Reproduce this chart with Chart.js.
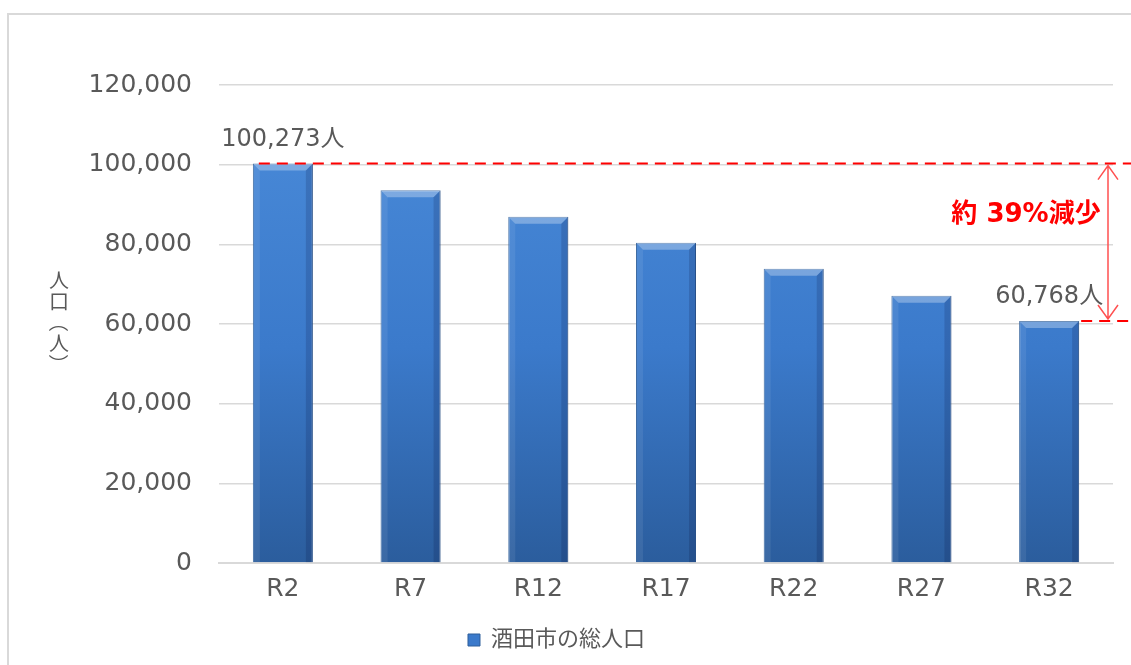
<!DOCTYPE html>
<html>
<head>
<meta charset="utf-8">
<script src="https://cdn.jsdelivr.net/npm/chart.js@4"></script>
<style>
  body { margin: 0; background: #fff; }
  #wrap { width: 1131px; height: 665px; }
</style>
</head>
<body>
<div id="wrap"><canvas id="main" width="1131" height="665"></canvas></div>
<script>
const labels = ['R2', 'R7', 'R12', 'R17', 'R22', 'R27', 'R32'];
const population = [100273, 93600, 86900, 80400, 73900, 67100, 60768];
const yTicks = [0, 20000, 40000, 60000, 80000, 100000, 120000];
const seriesName = '酒田市の総人口';
const axisTitle = ['人', '口', '（', '人', '）'];
const dropText = '約 39%減少';

const font = '"DejaVu Sans", "Noto Sans CJK JP", sans-serif';
const grey = '#595959';

// bar fill, a vertical gradient over each bar
const barFill = (ctx) => {
    const chart = ctx.chart;
    const area = chart.chartArea;
    if (!area) return '#3b7acb';
    const g = chart.ctx.createLinearGradient(0, area.top, 0, area.bottom);
    g.addColorStop(0, '#4b8cda');
    g.addColorStop(0.55, '#3b7acb');
    g.addColorStop(1, '#2b5d9d');
    return g;
}

const framePlugin = {
    id: 'frame',
    beforeDraw(chart) {
        const c = chart.ctx;
        c.save();
        c.strokeStyle = '#d9d9d9';
        c.lineWidth = 2;
        c.beginPath();
        c.moveTo(8, 665);
        c.lineTo(8, 14);
        c.lineTo(1131, 14);
        c.stroke();
        c.restore();
    }
}

// bevel look on top of each bar
const bevelPlugin = {
    id: 'bevel',
    afterDatasetsDraw(chart) {
        const c = chart.ctx;
        const meta = chart.getDatasetMeta(0);
        meta.data.forEach(bar => {
            const x0 = bar.x - bar.width / 2, x1 = bar.x + bar.width / 2;
            const y0 = bar.y, y1 = bar.base;
            const b = 7;
            c.save();
            c.fillStyle = 'rgba(255,255,255,0.3)';
            c.beginPath();
            c.moveTo(x0, y0); c.lineTo(x1, y0); c.lineTo(x1 - b, y0 + b); c.lineTo(x0 + b, y0 + b);
            c.closePath(); c.fill();
            c.fillStyle = 'rgba(255,255,255,0.08)';
            c.beginPath();
            c.moveTo(x0, y0); c.lineTo(x0 + b, y0 + b); c.lineTo(x0 + b, y1); c.lineTo(x0, y1);
            c.closePath(); c.fill();
            c.fillStyle = 'rgba(0,0,40,0.15)';
            c.beginPath();
            c.moveTo(x1, y0); c.lineTo(x1 - b, y0 + b); c.lineTo(x1 - b, y1); c.lineTo(x1, y1);
            c.closePath(); c.fill();
            c.restore();
        });
    }
}

const notePlugin = {
    id: 'notes',
    afterDraw(chart) {
        const c = chart.ctx;
        const y = chart.scales.y;
        const bars = chart.getDatasetMeta(0).data;
        const first = bars[0], last = bars[bars.length - 1];
        const yTop = y.getPixelForValue(population[0]);
        const yBot = y.getPixelForValue(population[population.length - 1]);
        c.save();
        // value labels on first and last bar
        c.font = '24px ' + font;
        c.fillStyle = grey;
        c.textAlign = 'center';
        c.textBaseline = 'bottom';
        c.fillText(population[0].toLocaleString('en-US') + '人', first.x, first.y - 12);
        c.fillText(population[population.length - 1].toLocaleString('en-US') + '人', last.x, last.y - 12);
        // red dashed reference lines
        c.strokeStyle = '#ff0000';
        c.lineWidth = 2;
        c.setLineDash([11, 7]);
        c.beginPath();
        c.moveTo(first.x - first.width / 2 + 6, yTop);
        c.lineTo(1131, yTop);
        c.moveTo(last.x + last.width / 2 + 2, yBot);
        c.lineTo(1131, yBot);
        c.stroke();
        c.setLineDash([]);
        // double arrow
        const ax = 1108;
        c.strokeStyle = '#ff5050';
        c.lineWidth = 1.5;
        c.beginPath();
        c.moveTo(ax, yTop + 2); c.lineTo(ax, yBot - 2);
        c.moveTo(ax - 10, yTop + 16); c.lineTo(ax, yTop + 2); c.lineTo(ax + 10, yTop + 16);
        c.moveTo(ax - 10, yBot - 16); c.lineTo(ax, yBot - 2); c.lineTo(ax + 10, yBot - 16);
        c.stroke();
        c.fillStyle = '#ff0000';
        c.font = 'bold 26px ' + font;
        c.textAlign = 'center';
        c.textBaseline = 'middle';
        c.fillText(dropText, 1026, 215);
        // vertical axis title
        c.fillStyle = grey;
        c.font = '20px "Noto Sans CJK JP", sans-serif';
        axisTitle.forEach((ch, i) => {
            const cy = 280 + i * 21;
            c.save();
            c.translate(59, cy);
            if (ch === '（' || ch === '）') c.rotate(Math.PI / 2);
            c.fillText(ch, 0, 0);
            c.restore();
        });
        c.restore();
    }
}

new Chart(document.getElementById('main'), {
    type: 'bar',
    data: {
        labels: labels,
        datasets: [{
            label: seriesName,
            data: population,
            backgroundColor: barFill,
            borderColor: '#2f5f9a',
            borderWidth: 1,
            categoryPercentage: 1,
            barPercentage: 0.47
        }]
    },
    options: {
        responsive: false,
        animation: false,
        layout: { padding: { top: 85, right: 18, left: 0, bottom: 4 } },
        scales: {
            x: {
                grid: { display: false, drawTicks: false },
                border: { color: '#d9d9d9', width: 2 },
                ticks: { color: grey, font: { family: font, size: 25 }, padding: 11 },
                afterFit: (s) => { s.height = 54; }
            },
            y: {
                min: 0,
                max: 120000,
                afterBuildTicks: (s) => { s.ticks = yTicks.map(v => ({ value: v })); },
                grid: { color: '#d9d9d9', lineWidth: 1.5, drawTicks: false },
                border: { display: false },
                ticks: {
                    color: grey,
                    font: { family: font, size: 25 },
                    padding: 27,
                    callback: (v) => v.toLocaleString('en-US')
                },
                afterFit: (s) => { s.width = 219; }
            }
        },
        plugins: {
            legend: {
                position: 'bottom',
                labels: {
                    color: grey,
                    font: { family: font, size: 22 },
                    boxWidth: 12,
                    boxHeight: 12,
                    padding: 12,
                    generateLabels: (chart) => [{
                        text: seriesName,
                        fillStyle: '#3b7acb',
                        strokeStyle: '#2f5f9a',
                        lineWidth: 1,
                        fontColor: grey,
                        datasetIndex: 0
                    }]
                }
            },
            tooltip: { enabled: false }
        }
    },
    plugins: [framePlugin, bevelPlugin, notePlugin]
});
</script>
</body>
</html>
